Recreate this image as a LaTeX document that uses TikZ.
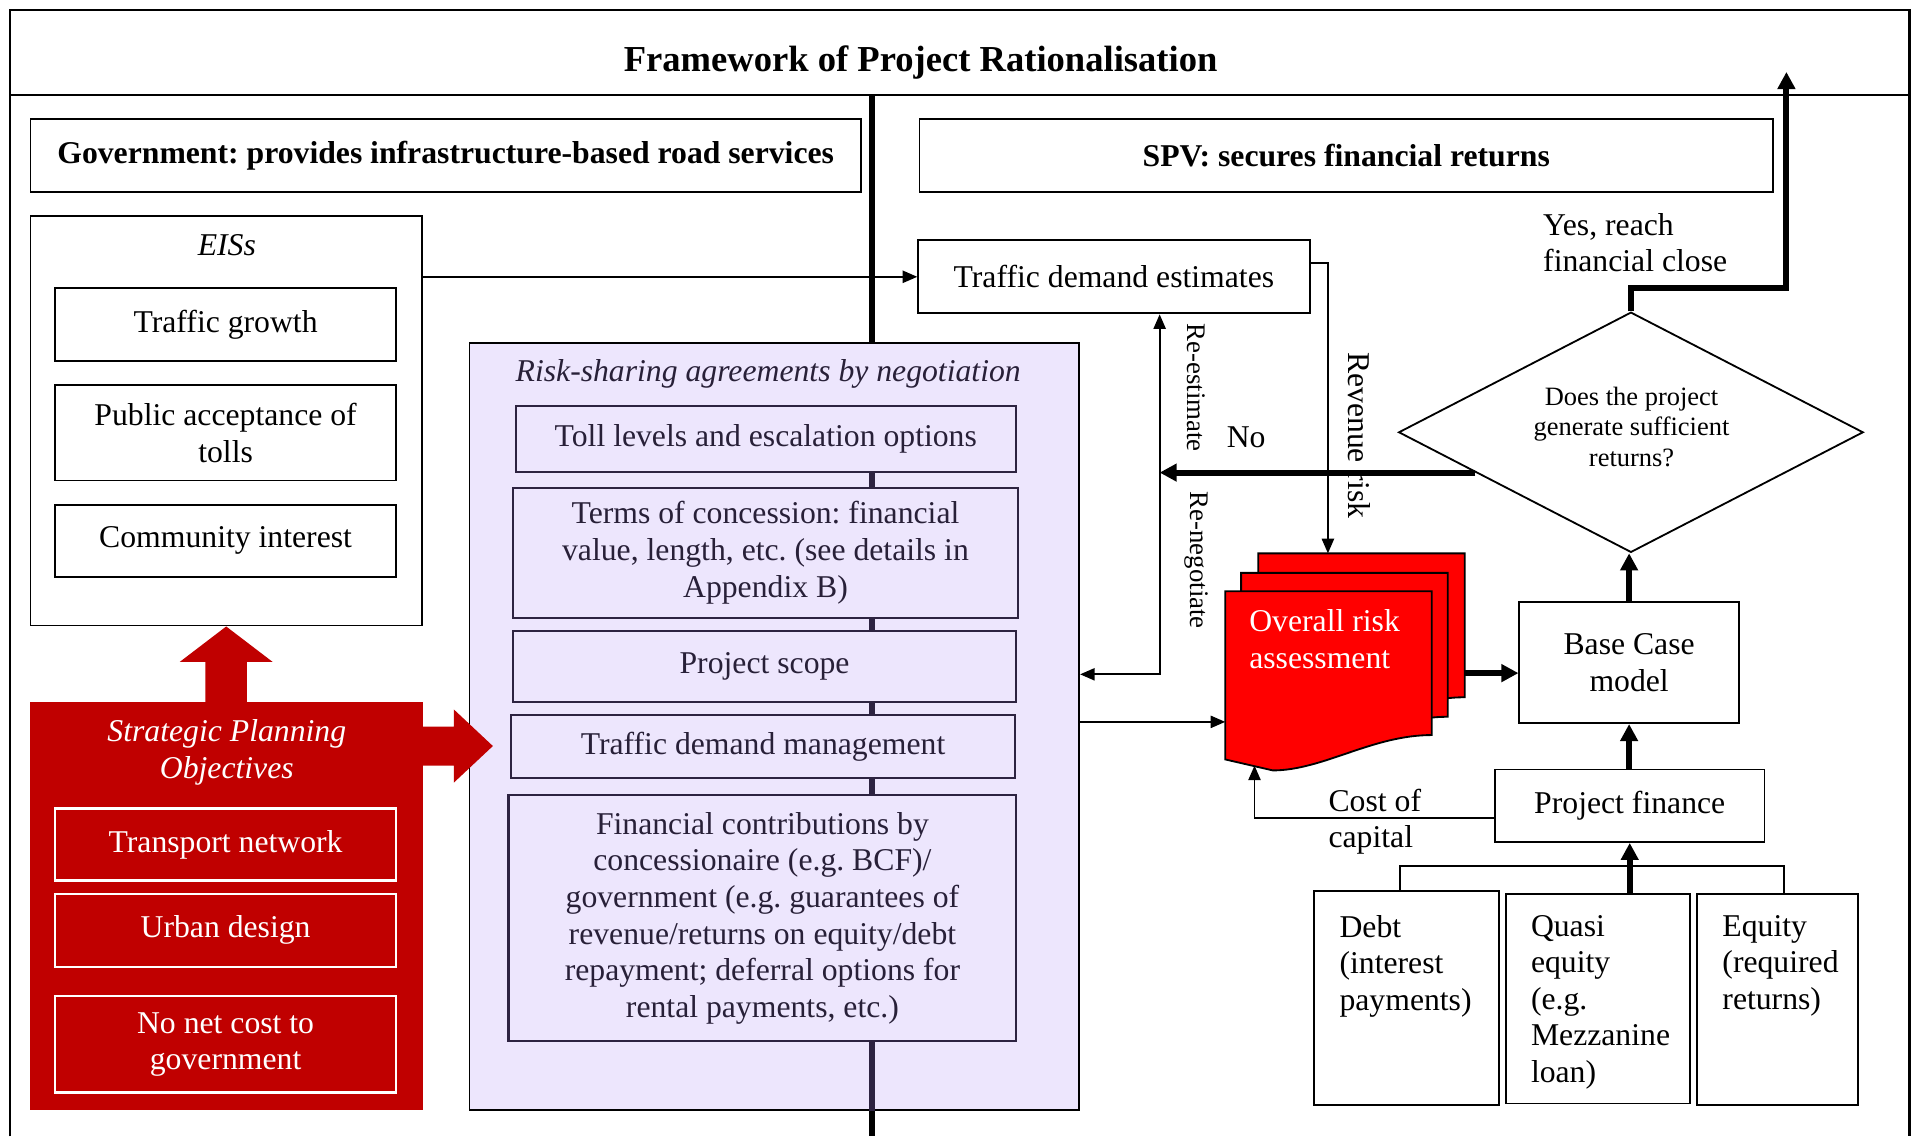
\documentclass[tikz,border=0pt]{standalone}
\usepackage{fontspec}
\setmainfont{Liberation Serif}
\usetikzlibrary{arrows.meta,calc,shapes.geometric}
\definecolor{spred}{RGB}{192,0,0}
\definecolor{docred}{RGB}{255,0,0}
\definecolor{lav}{RGB}{237,230,253}
\definecolor{lavline}{RGB}{45,35,65}
\definecolor{lavtext}{RGB}{40,32,56}
\newcommand{\fs}{\fontsize{26}{30}\selectfont}
\newcommand{\docshape}[1]{\filldraw[fill=docred, draw=black, line width=1.5pt] (#1.north west) -- (#1.north east) -- ($(#1.north east)+(0,118)$) .. controls ($(#1.north east)+(-49,118)$) and ($(#1.north west)+(80,147)$) .. ($(#1.north west)+(39,147)$) -- ($(#1.north west)+(0,138)$) -- cycle;}
\frenchspacing
\begin{document}
\begin{tikzpicture}[x=1pt,y=-1pt,font=\fs,
  box/.style={draw=black, line width=1.5pt, fill=white, inner sep=0pt, align=center},
  redbox/.style={draw=white, line width=1.8pt, fill=spred, text=white, inner sep=0pt, align=center},
  lbox/.style={draw=lavline, line width=1.8pt, fill=lav, text=lavtext, inner sep=0pt, align=center},
  docn/.style={minimum width=169pt, minimum height=138pt, inner sep=0pt},
  arr/.style={line width=1.5pt, -{Triangle[length=12pt,width=10pt]}},
  arrtwo/.style={line width=1.5pt, {Triangle[length=12pt,width=10pt]}-{Triangle[length=12pt,width=10pt]}},
  thickarr/.style={line width=5pt, -{Triangle[length=14pt,width=14pt]}},
  plainline/.style={line width=1.5pt}]
\useasboundingbox (0,0) rectangle (1568,932);
\fill[white] (0,0) rectangle (1568,932);
% frame
\draw[line width=1.8pt] (8,932) -- (8,8) -- (1566,8) -- (1566,932);
\draw[line width=1.8pt] (8,78) -- (1566,78);
\node[font=\fontsize{30}{34}\selectfont\bfseries] (title) at (755,51) {Framework of Project Rationalisation};
\draw[line width=5.5pt] (715,78) -- (715,282);
% headers
\node[box, minimum width=681pt, minimum height=60pt, font=\fs\bfseries] (gov) at (365.5,127.5) {Government: provides infrastructure-based road services};
\node[box, minimum width=700pt, minimum height=60pt, font=\fs\bfseries] (spv) at (1104,127.5) {SPV: secures financial returns};
% EISs
\node[box, minimum width=321pt, minimum height=336pt] (eis) at (185.5,345) {};
\node[font=\fs\itshape] (eist) at (186,201) {EISs};
\node[box, minimum width=280pt, minimum height=60pt] (tg) at (185,266) {Traffic growth};
\node[box, minimum width=280pt, minimum height=78pt] (pa) at (185,355) {Public acceptance of\\tolls};
\node[box, minimum width=280pt, minimum height=59pt] (ci) at (185,443.5) {Community interest};
% Strategic planning
\node[fill=spred, minimum width=322pt, minimum height=334pt, inner sep=0pt] (spo) at (186,743) {};
\node[font=\fs\itshape, text=white, align=center] (spot) at (186,617) {Strategic Planning\\Objectives};
\node[redbox, minimum width=280pt, minimum height=59pt] (tn) at (185,692.5) {Transport network};
\node[redbox, minimum width=280pt, minimum height=60pt] (ud) at (185,763) {Urban design};
\node[redbox, minimum width=280pt, minimum height=79pt] (nn) at (185,856.5) {No net cost to\\government};
\fill[spred] (eis.south) -- ++(38,29) -- ++(-21,0) -- ++(0,36) -- ++(-34,0) -- ++(0,-36) -- ++(-21,0) -- cycle;
% Risk sharing
\node[fill=lav, draw=black, line width=1.5pt, minimum width=500pt, minimum height=629pt, inner sep=0pt] (rsa) at (635,595.5) {};
\fill[spred] ($(spo.north east)+(-1,20)$) -- ++(26,0) -- ++(0,-14) -- ++(32,30) -- ++(-32,30) -- ++(0,-14) -- ++(-26,0) -- cycle;
\node[font=\fs\itshape, text=lavtext] (rsat) at (630,307) {Risk-sharing agreements by negotiation};
\draw[line width=5pt, lavline] (715,335) -- (715,911);
\draw[line width=5.5pt] (715,911) -- (715,932);
\node[lbox, minimum width=410pt, minimum height=54pt] (toll) at (628,360) {Toll levels and escalation options};
\node[lbox, minimum width=414.5pt, minimum height=106.5pt] (terms) at (627.75,453.25) {Terms of concession: financial\\value, length, etc. (see details in\\Appendix B)};
\node[lbox, minimum width=413pt, minimum height=58.5pt] (scope) at (627,546.75) {Project scope};
\node[lbox, minimum width=413.5pt, minimum height=51.5pt] (tdm) at (625.75,612.25) {Traffic demand management};
\node[lbox, minimum width=416.5pt, minimum height=202pt] (fin) at (625.25,753) {Financial contributions by\\concessionaire (e.g. BCF)/\\government (e.g. guarantees of\\revenue/returns on equity/debt\\repayment; deferral options for\\rental payments, etc.)};
% Right side
\node[box, minimum width=321pt, minimum height=60pt] (tde) at (913.5,227) {Traffic demand estimates};
\draw[arr] (eis.east |- tde.west) -- (tde.west);
\node[draw, line width=1.5pt, shape=diamond, minimum width=381pt, minimum height=197pt, inner sep=0pt, fill=white] (dia) at (1337.5,354.5) {};
\node[font=\fontsize{21.7}{25}\selectfont, align=center] (diat) at (1338,350) {Does the project\\generate sufficient\\returns?};
\coordinate (yesend) at (1465,59);
\draw[thickarr] (dia.north) -- ++(0,-19) -| (yesend);
\node[anchor=west, align=left] (yes) at (1262,199) {Yes, reach\\financial close};
\coordinate (re) at (951,553);
\draw[arrtwo] (re |- tde.south) -- (re) -- (re -| rsa.east);
\coordinate (nostart) at ($(dia.west)!0.333!(dia.south)$);
\draw[thickarr] (nostart) -- (nostart -| re);
\node (no) at (1022,359) {No};
\node[rotate=-90, font=\fontsize{22}{26}\selectfont] (ree) at (981,318) {Re-estimate};
\node[rotate=-90, font=\fontsize{22}{26}\selectfont] (ren) at (981,459.5) {Re-negotiate};
% documents
\node[docn] (docback) at (1116.5,523) {};
\docshape{docback}
\node[docn] (docmid) at (1102.5,539) {};
\docshape{docmid}
\node[docn] (ora) at (1089.5,554) {};
\docshape{ora}
\node[anchor=west, text=white, align=left] (orat) at (1021,524) {Overall risk\\assessment};
\draw[arr] ($(tde.east)+(0,-11)$) -| ($(docback.north)+(-27.5,0)$);
\node[rotate=-90] (rev) at (1115,357) {Revenue risk};
\coordinate (rao) at ($(rsa.east)+(0,-3.5)$);
\draw[arr] (rao) -- (rao -| ora.west);
% base case, finance
\node[box, minimum width=180pt, minimum height=99pt] (bcm) at (1336,543.5) {Base Case\\model};
\coordinate (bcin) at ($(bcm.west)+(0,8.5)$);
\draw[thickarr] (bcin -| docback.east) -- (bcin);
\draw[thickarr] (bcm.north) -- (bcm.north |- dia.south);
\node[box, minimum width=221pt, minimum height=59.5pt] (pf) at (1336.5,660.75) {Project finance};
\draw[thickarr] (pf.north -| bcm.south) -- (bcm.south);
\draw[arr] ($(pf.west)+(0,10)$) -| ($(ora.north west)+(24,143)$);
\node[anchor=west, align=left] (coc) at (1086,674) {Cost of\\capital};
% sources
\node[box, minimum width=151.5pt, minimum height=175pt] (debt) at (1153.25,818.5) {};
\node[box, minimum width=151pt, minimum height=172pt] (quasi) at (1310.5,819) {};
\node[box, minimum width=132pt, minimum height=173pt] (equity) at (1458,819.5) {};
\node[anchor=north west, align=left] (debtt) at (1095,747) {Debt\\(interest\\payments)};
\node[anchor=north west, align=left] (quasit) at (1252,747) {Quasi\\equity\\(e.g.\\Mezzanine\\loan)};
\node[anchor=north west, align=left] (equityt) at (1409,747) {Equity\\(required\\returns)};
\draw[plainline] ($(debt.north)+(-5,0)$) -- ++(0,-20) -| ($(equity.north)+(5,0)$);
\draw[thickarr] (pf.south |- quasi.north) -- (pf.south);
\end{tikzpicture}
\end{document}
